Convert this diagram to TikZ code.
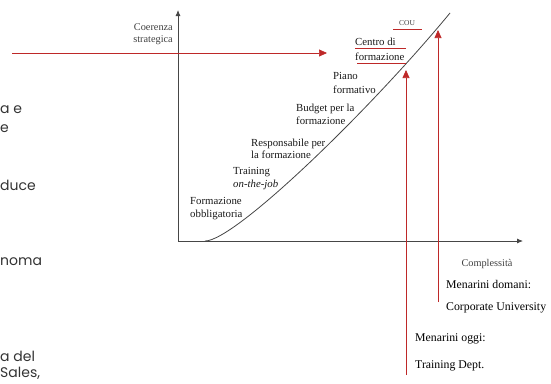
\documentclass[tikz,border=0pt]{standalone}
\usepackage{fontspec}
\setmainfont{Liberation Serif}
\newfontfamily\slidefont{Poppins}
\usetikzlibrary{arrows.meta}
\definecolor{axisgray}{RGB}{70,70,70}
\definecolor{accentred}{RGB}{190,40,40}
\tikzset{
  axis/.style={draw=axisgray, line width=0.8pt},
  curveline/.style={draw=axisgray, line width=0.8pt},
  redarrow/.style={draw=accentred, line width=0.7pt, -{Triangle[length=8pt,width=7pt]}},
  redrule/.style={draw=accentred, line width=0.8pt},
  lbl/.style={font=\fontsize{10.8}{12}\selectfont, text=black!90, inner sep=0pt, anchor=base west},
  axislbl/.style={font=\fontsize{10.3}{12}\selectfont, text=black!75, inner sep=0pt},
  notelbl/.style={font=\fontsize{11.8}{13}\selectfont, text=black, inner sep=0pt, anchor=base west},
  slidetext/.style={font=\slidefont\fontsize{14}{16}\selectfont, text=black!80, inner sep=0pt, anchor=base west}
}
\begin{document}
\begin{tikzpicture}[x=1pt,y=-1pt]
\useasboundingbox (0,0) rectangle (551,383);

% visible ends of the neighbouring slide text
\node[slidetext] (f1) at (0,113) {a e};
\node[slidetext] (f2) at (0,132) {e};
\node[slidetext] (f3) at (0,190) {duce};
\node[slidetext] (f4) at (0,265) {noma};
\node[slidetext] (f5) at (0,361) {a del};
\node[slidetext] (f6) at (0,377) {Sales,};

% axes
\coordinate (O) at (178,241);
\coordinate (ytop) at (178,10);
\coordinate (xend) at (523,241);
\draw[axis, {Latex[length=6pt,width=5pt]}-{Latex[length=6pt,width=5pt]}] (ytop) -- (O) -- (xend);

\node[axislbl, anchor=base east] (ylab1) at (173,30) {Coerenza};
\node[axislbl, anchor=base east] (ylab2) at (173,42) {strategica};
\node[axislbl, anchor=base] (xlab) at (487,266) {Complessità};

% development curve
\coordinate (c0) at (205,241);
\coordinate (c1) at (450,13);
\draw[curveline] (c0) .. controls (235,241) and (370,110) .. (c1);

% stages along the curve
\node[lbl] (s1a) at (190,204) {Formazione};
\node[lbl] (s1b) at (190,217) {obbligatoria};
\node[lbl] (s2a) at (233,174) {Training};
\node[lbl] (s2b) at (233,187) {\textit{on-the-job}};
\node[lbl] (s3a) at (251,146) {Responsabile per};
\node[lbl] (s3b) at (251,158) {la formazione};
\node[lbl] (s4a) at (296,111) {Budget per la};
\node[lbl] (s4b) at (296,124) {formazione};
\node[lbl] (s5a) at (333,79) {Piano};
\node[lbl] (s5b) at (333,93) {formativo};
\node[lbl] (s6a) at (355,45) {Centro di};
\node[lbl] (s6b) at (355,60) {formazione};
\node[axislbl, font=\fontsize{7.5}{8}\selectfont, anchor=base] (cou) at (407,25) {COU};

% red underlines
\draw[redrule] (393,29) -- (422,29);
\draw[redrule] (355,48) -- (406,48);
\draw[redrule] (357,63) -- (406,63);

% strategic coherence level
\coordinate (hstart) at (12,53);
\coordinate (hend) at (327,53);
\draw[redarrow] (hstart) -- (hend);

% positioning arrows
\coordinate (a1b) at (406,375);
\coordinate (a1t) at (406,70);
\coordinate (a2b) at (438,302);
\coordinate (a2t) at (438,30);
\draw[redarrow] (a1b) -- (a1t);
\draw[redarrow] (a2b) -- (a2t);

\node[notelbl] (m1) at (446,288) {Menarini domani:};
\node[notelbl] (m2) at (446,310) {Corporate University};
\node[notelbl] (m3) at (415,341) {Menarini oggi:};
\node[notelbl] (m4) at (415,368) {Training Dept.};
\end{tikzpicture}
\end{document}
